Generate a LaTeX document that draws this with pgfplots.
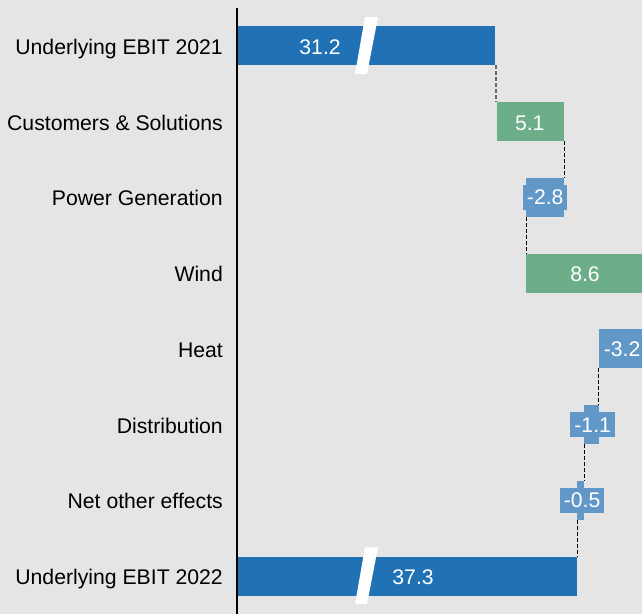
\documentclass[border=0pt]{standalone}
\usepackage{pgfplots}
\pgfplotsset{compat=1.18}
\usepackage{fontspec}
\setmainfont{Liberation Sans}
\definecolor{bgc}{HTML}{E5E5E5}
\definecolor{dblue}{HTML}{2171B5}
\definecolor{wgreen}{HTML}{6CAE89}
\definecolor{lblue}{HTML}{6298C8}
\newcommand{\fs}{\fontsize{21.2bp}{25bp}\selectfont}
\begin{document}
\begin{tikzpicture}
\useasboundingbox (0,0) rectangle (642bp,614bp);
\fill[bgc] (0,0) rectangle (642bp,614bp);
\begin{axis}[
  at={(237bp,0bp)}, anchor=south west,
  scale only axis, width=405bp, height=606bp,
  xmin=11.97, xmax=42.1, ymin=-0.5, ymax=7.5,
  y dir=reverse, axis on top,
  axis x line=none, axis y line=left,
  y axis line style={-, line width=1.6bp, black},
  ytick={0,...,7},
  yticklabels={Underlying EBIT 2021, Customers \& Solutions, Power Generation, Wind\ , Heat, Distribution, Net other effects, Underlying EBIT 2022},
  yticklabel style={font=\fs, inner sep=0pt, anchor=base east, xshift=-14bp, yshift=-8.6bp},
  major tick length=0pt,
  every axis plot/.append style={sharp plot, draw=none, forget plot},
]
% floating bars: (start,row-h) (end,row-h) (end,row+h) (start,row+h)
% Underlying EBIT 2021: 0 -> 31.2
\addplot[fill=dblue]  coordinates {(0,-0.2575) (31.2,-0.2575) (31.2,0.2575) (0,0.2575)} -- cycle;
% Customers & Solutions: 31.2 -> 36.3 (+5.1)
\addplot[fill=wgreen] coordinates {(31.3,0.7425) (36.3,0.7425) (36.3,1.2575) (31.3,1.2575)} -- cycle;
% Power Generation: 36.3 -> 33.5 (-2.8)
\addplot[fill=lblue]  coordinates {(33.5,1.7425) (36.3,1.7425) (36.3,2.2575) (33.5,2.2575)} -- cycle;
% Wind: 33.5 -> 42.1 (+8.6)
\addplot[fill=wgreen] coordinates {(33.5,2.7425) (42.1,2.7425) (42.1,3.2575) (33.5,3.2575)} -- cycle;
% Heat: 42.1 -> 38.9 (-3.2)
\addplot[fill=lblue]  coordinates {(38.9,3.7425) (42.1,3.7425) (42.1,4.2575) (38.9,4.2575)} -- cycle;
% Distribution: 38.9 -> 37.8 (-1.1)
\addplot[fill=lblue]  coordinates {(37.8,4.7425) (38.9,4.7425) (38.9,5.2575) (37.8,5.2575)} -- cycle;
% Net other effects: 37.8 -> 37.3 (-0.5)
\addplot[fill=lblue]  coordinates {(37.3,5.7425) (37.8,5.7425) (37.8,6.2575) (37.3,6.2575)} -- cycle;
% Underlying EBIT 2022: 0 -> 37.3
\addplot[fill=dblue]  coordinates {(0,6.7425) (37.3,6.7425) (37.3,7.2575) (0,7.2575)} -- cycle;

% connectors
\addplot[draw=gray!80!black, dash pattern=on 4bp off 2bp, line width=1.4bp] coordinates {(31.25,0.2575) (31.25,0.7425)};
\addplot[draw=black, dash pattern=on 4bp off 2bp, line width=1bp] coordinates {(36.3,1.2575) (36.3,1.7425)};
\addplot[draw=black, dash pattern=on 4bp off 2bp, line width=1bp] coordinates {(33.5,2.2575) (33.5,2.7425)};
\addplot[draw=black, dash pattern=on 4bp off 2bp, line width=1bp] coordinates {(38.9,4.2575) (38.9,4.7425)};
\addplot[draw=black, dash pattern=on 4bp off 2bp, line width=1bp] coordinates {(37.8,5.2575) (37.8,5.7425)};
\addplot[draw=black, dash pattern=on 4bp off 2bp, line width=1bp] coordinates {(37.3,6.2575) (37.3,6.7425)};

% axis breaks
\addplot[fill=white] coordinates {(21.49,-0.38) (22.46,-0.38) (21.64,0.37) (20.75,0.37)} -- cycle;
\addplot[fill=white] coordinates {(21.49,6.62) (22.46,6.62) (21.64,7.37) (20.75,7.37)} -- cycle;

% labels on bars
\addplot[mark=none, point meta=explicit symbolic, nodes near coords,
  every node near coord/.append style={font=\fs, text=white, anchor=center, inner sep=0pt, text height=15.2bp, text depth=0pt, yshift=-1bp}]
  coordinates {(18.15,0)[31.2] (33.75,1)[5.1] (37.86,3)[8.6] (25.07,7)[37.3]};
\addplot[mark=none, point meta=explicit symbolic, nodes near coords,
  every node near coord/.append style={font=\fs, text=white, fill=lblue, anchor=center, inner xsep=4bp, inner ysep=5bp, text height=15.2bp, text depth=0pt}]
  coordinates {(34.9,2)[-2.8] (40.62,4)[-3.2] (38.43,5)[-1.1] (37.64,6)[-0.5]};
\end{axis}
\end{tikzpicture}
\end{document}
